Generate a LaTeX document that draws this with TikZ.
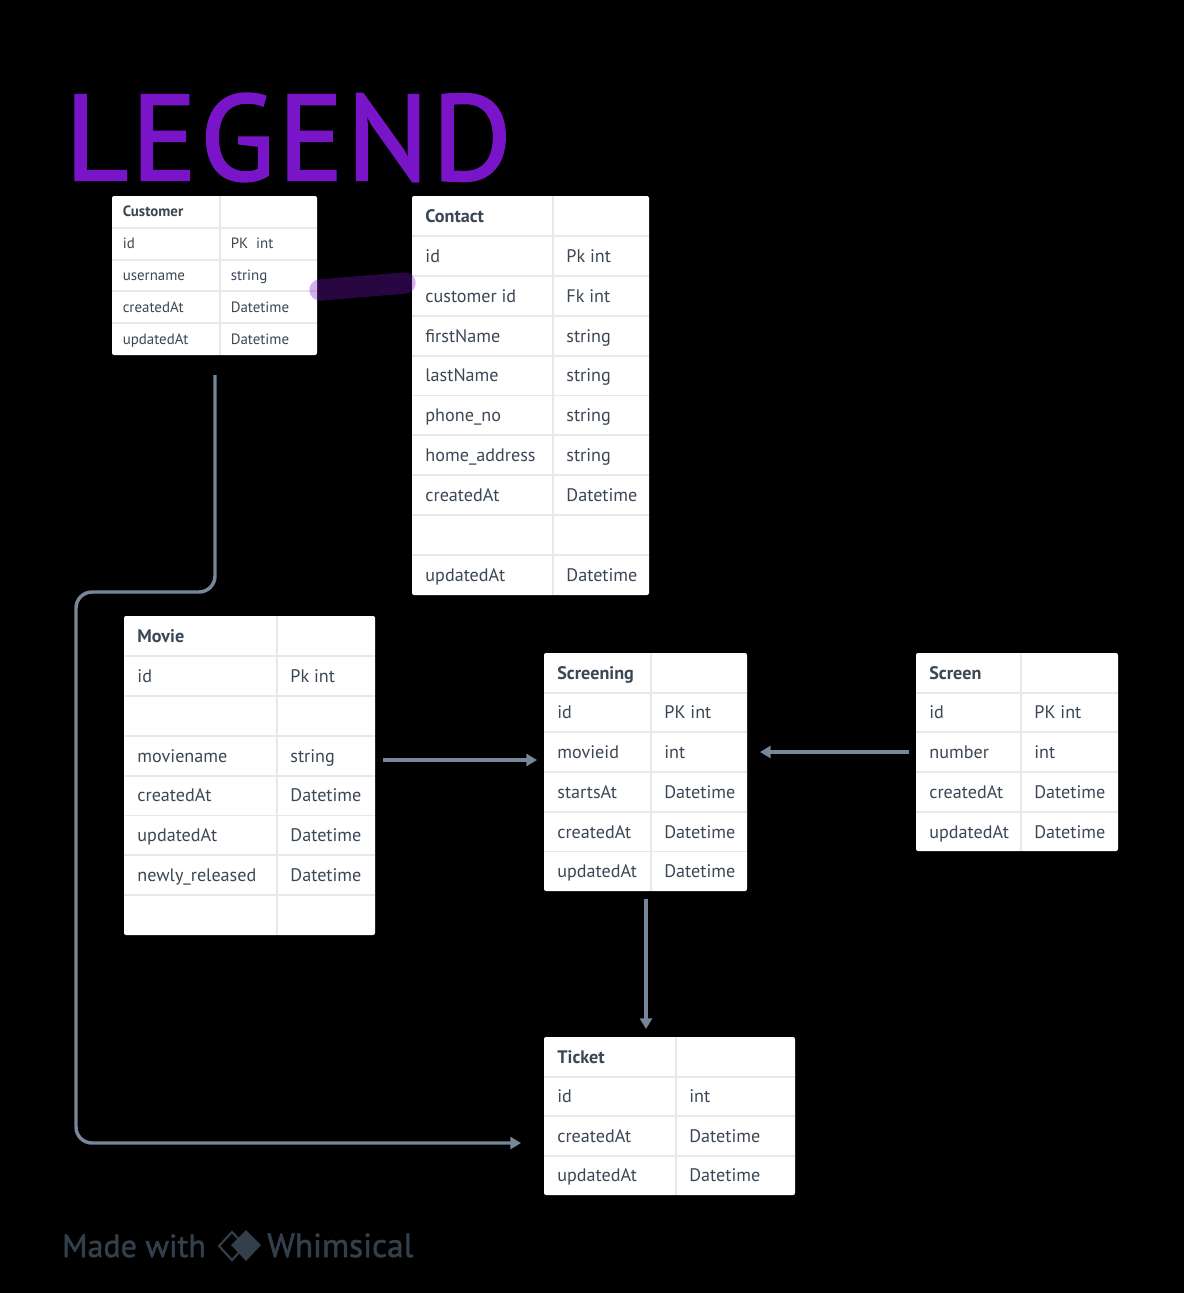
\documentclass[tikz,border=0pt]{standalone}
\usepackage{fontspec}
\setmainfont{PT Sans}
\usetikzlibrary{arrows.meta,fit}
\definecolor{inkgray}{HTML}{3B4754}
\definecolor{linegray}{HTML}{E6E8EC}
\definecolor{arrowgray}{HTML}{76879A}
\definecolor{legendpurple}{HTML}{7A14C8}
\definecolor{footgray}{HTML}{333F4A}
\tikzset{
  tablebox/.style={fill=white, inner sep=0pt, rounded corners=1.5pt},
  gridline/.style={draw=linegray, line width=1.4pt},
  cell/.style={anchor=base west, inner sep=0pt, text=inkgray},
  bigcell/.style={font=\fontsize{13.6}{15}\selectfont},
  smallcell/.style={font=\fontsize{11.2}{13}\selectfont},
  link/.style={draw=arrowgray, line width=2.6pt, rounded corners=12pt, -{Triangle[length=8pt,width=9pt]}},
}
% name, left, top, right, bottom, middle line, row height, text style, rows
\newcommand{\ertable}[9]{
  \node[tablebox, fit={(#2,#3) (#4,#5)}] (#1) {};
  \draw[gridline] (#6,#3) -- (#6,#5);
  \foreach \a/\b [count=\r from 0] in {#9} {
    \ifnum\r>0 \draw[gridline] (#2,{#3+\r*#7}) -- (#4,{#3+\r*#7}); \fi
    \node[cell, #8] (#1-a\r) at ({#2+0.33*#7},{#3+(\r+0.5)*#7+0.16*#7}) {\ifnum\r=0 \bfseries\fi\a};
    \node[cell, #8] (#1-b\r) at ({#6+0.33*#7},{#3+(\r+0.5)*#7+0.16*#7}) {\b};
  }
}
\begin{document}
\begin{tikzpicture}[x=0.75pt,y=-0.75pt]
\useasboundingbox[fill=black] (0,0) rectangle (1184,1293);

\node[anchor=base west, inner sep=0pt, text=legendpurple, font=\addfontfeatures{LetterSpace=3,FakeBold=2}\fontsize{91}{91}\selectfont] (legend) at (65,180) {LEGEND};

\ertable{customer}{112}{196}{317}{355}{220}{31.8}{smallcell}{Customer/,id/PK\ \ int,username/string,createdAt/Datetime,updatedAt/Datetime}
\ertable{contact}{412}{196}{649}{595}{553}{39.9}{bigcell}{Contact/,id/Pk int,customer id/Fk int,firstName/string,lastName/string,phone\_no/string,home\_address/string,createdAt/Datetime,/,updatedAt/Datetime}
\ertable{movie}{124}{616}{375}{935}{277}{39.9}{bigcell}{Movie/,id/Pk int,/,moviename/string,createdAt/Datetime,updatedAt/Datetime,newly\_released/Datetime,/}
\ertable{screening}{544}{653}{747}{891}{651}{39.7}{bigcell}{Screening/,id/PK int,movieid/int,startsAt/Datetime,createdAt/Datetime,updatedAt/Datetime}
\ertable{screen}{916}{653}{1118}{851}{1021}{39.7}{bigcell}{Screen/,id/PK int,number/int,createdAt/Datetime,updatedAt/Datetime}
\ertable{ticket}{544}{1037}{795}{1195}{676}{39.6}{bigcell}{Ticket/,id/int,createdAt/Datetime,updatedAt/Datetime}

% free ends of the connectors
\coordinate (customerout) at (215,375);
\coordinate (bendtop) at (215,592);
\coordinate (bendleft) at (76,592);
\coordinate (bendlow) at (76,1143);
\coordinate (ticketside) at (521,1143);
\coordinate (movieout) at (383,760);
\coordinate (screeningleft) at (537,760);
\coordinate (screenout) at (909,752);
\coordinate (screeningright) at (760,752);
\coordinate (screeningout) at (646,899);
\coordinate (tickettop) at (646,1029);
\coordinate (markstart) at (320,290);
\coordinate (markend) at (405,283);

\draw[link] (customerout) -- (bendtop) -- (bendleft) -- (bendlow) -- (ticketside);
\draw[link] (movieout) -- (screeningleft);
\draw[link] (screenout) -- (screeningright);
\draw[link] (screeningout) -- (tickettop);
\draw[legendpurple, opacity=0.33, line width=16pt, line cap=round] (markstart) -- (markend);

% footer
\node[anchor=base west, inner sep=0pt, text=footgray, font=\addfontfeatures{FakeBold=1.5}\fontsize{24}{25}\selectfont] (madewith) at (62,1257) {Made with};
\node[anchor=base west, inner sep=0pt, text=footgray, font=\addfontfeatures{FakeBold=1.5}\fontsize{25}{25}\selectfont] (whimsical) at (267,1257) {Whimsical};
\draw[footgray, line width=1.6pt] (219,1246) -- (232,1232) -- (245,1246) -- (232,1260) -- cycle;
\fill[footgray] (231,1245) -- (246,1230) -- (261,1245) -- (246,1261) -- cycle;
\end{tikzpicture}
\end{document}
